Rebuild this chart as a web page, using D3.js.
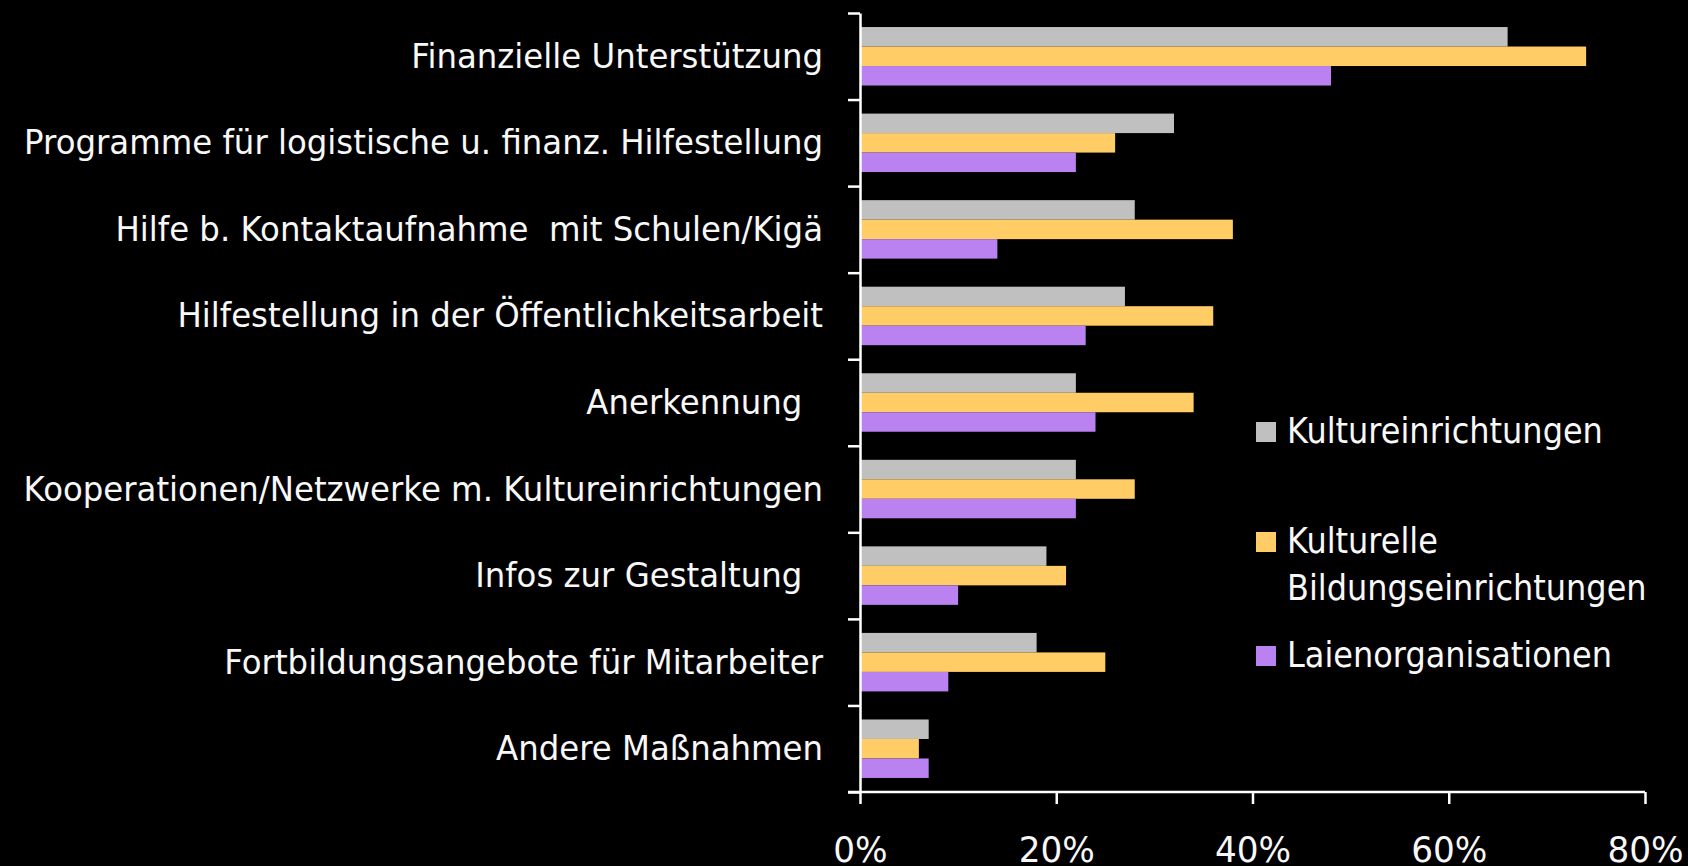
<!DOCTYPE html>
<html>
<head>
<meta charset="utf-8">
<script src="https://cdn.jsdelivr.net/npm/d3@7"></script>
<style>
  body { margin: 0; background: #000; }
  svg { display: block; }
  text { font-family: "DejaVu Sans", Verdana, sans-serif; fill: #f8f8f8; }
</style>
</head>
<body>
<svg width="1688" height="866"></svg>
<script>
var categories = [
  "Finanzielle Unterstützung",
  "Programme für logistische u. finanz. Hilfestellung",
  "Hilfe b. Kontaktaufnahme  mit Schulen/Kigä",
  "Hilfestellung in der Öffentlichkeitsarbeit",
  "Anerkennung  ",
  "Kooperationen/Netzwerke m. Kultureinrichtungen",
  "Infos zur Gestaltung  ",
  "Fortbildungsangebote für Mitarbeiter",
  "Andere Maßnahmen"
];
var seriesNames = ["Kultureinrichtungen", "Kulturelle Bildungseinrichtungen", "Laienorganisationen"];
var kultur = [66, 32, 28, 27, 22, 22, 19, 18, 7];
var bildung = [74, 26, 38, 36, 34, 28, 21, 25, 6];
var laien = [48, 22, 14, 23, 24, 22, 10, 9, 7];
var xTicks = [0, 20, 40, 60, 80];
var colors = ["#c0c0c0", "#ffcc66", "#ba82f0"];

var values = [kultur, bildung, laien];
var svg = d3.select("svg");

var mLeft = 860, mRight = 1645, mTop = 13, mBottom = 792;

var x = d3.scaleLinear().domain([0, 80]).range([mLeft, mRight]);
var y = d3.scaleBand().domain(categories).range([mTop, mBottom]).padding(0);
var y1 = d3.scaleBand().domain(d3.range(3)).range([0, y.bandwidth()]).paddingInner(0).paddingOuter(0.72);

// bars
categories.forEach(function(c, i) {
  svg.append("g")
    .attr("transform", "translate(0," + y(c) + ")")
    .selectAll("rect")
    .data(values.map(function(v, s) { return { s: s, v: v[i] }; }))
    .enter().append("rect")
      .attr("x", x(0))
      .attr("y", function(d) { return y1(d.s); })
      .attr("width", function(d) { return x(d.v) - x(0); })
      .attr("height", y1.bandwidth())
      .attr("fill", function(d) { return colors[d.s]; });
});

// left axis: ticks at category boundaries
var yb = d3.scaleLinear().domain([0, categories.length]).range([mBottom, mTop]);
svg.append("g")
  .attr("transform", "translate(" + mLeft + ",0)")
  .call(d3.axisLeft(yb).tickValues(d3.range(categories.length + 1)).tickSize(12).tickSizeOuter(0).tickFormat(""))
  .call(function(g) { g.selectAll("line, path").attr("stroke", "#fff").attr("stroke-width", 2.5); });

// measure horizontal compression of the font (the longest label is ~800px wide)
var probe = svg.append("text").attr("font-size", 34).style("white-space", "pre").text(categories[5]);
var k = 800 / probe.node().getComputedTextLength();
probe.remove();

// bottom axis
var xa = svg.append("g")
  .attr("transform", "translate(0," + mBottom + ")")
  .call(d3.axisBottom(x).tickValues(xTicks).tickSize(12).tickSizeOuter(0).tickFormat(function(d) { return d + "%"; }));
xa.selectAll("line, path").attr("stroke", "#fff").attr("stroke-width", 2.5);
xa.select(".domain").attr("d", "M" + (mLeft - 12) + ",0H" + mRight);
xa.selectAll(".tick text")
  .attr("font-size", 36)
  .attr("fill", "#f8f8f8")
  .attr("y", null).attr("dy", null)
  .attr("transform", "translate(0,70) scale(" + k + ",1)");

// category labels
svg.append("g").selectAll("text")
  .data(categories)
  .enter().append("text")
    .attr("text-anchor", "end")
    .attr("font-size", 34)
    .attr("transform", function(d) { return "translate(823," + (y(d) + y.bandwidth() / 2 + 11.5) + ") scale(" + k + ",1)"; })
    .style("white-space", "pre")
    .text(function(d) { return d; });

// legend
var legendLines = [["Kultureinrichtungen"], ["Kulturelle", "Bildungseinrichtungen"], ["Laienorganisationen"]];
var legendBase = [443, 553, 667];
var probe2 = svg.append("text").attr("font-size", 36).text("Kultureinrichtungen");
var k2 = 316 / probe2.node().getComputedTextLength();
probe2.remove();

var lg = svg.append("g").selectAll("g").data(legendLines).enter().append("g");
lg.append("rect")
  .attr("x", 1256)
  .attr("y", function(d, i) { return legendBase[i] - 21; })
  .attr("width", 20).attr("height", 20)
  .attr("fill", function(d, i) { return colors[i]; });
lg.each(function(d, i) {
  var g = d3.select(this);
  d.forEach(function(line, j) {
    g.append("text")
      .attr("font-size", 36)
      .attr("transform", "translate(1287," + (legendBase[i] + j * 47) + ") scale(" + k2 + ",1)")
      .text(line);
  });
});
</script>
</body>
</html>
